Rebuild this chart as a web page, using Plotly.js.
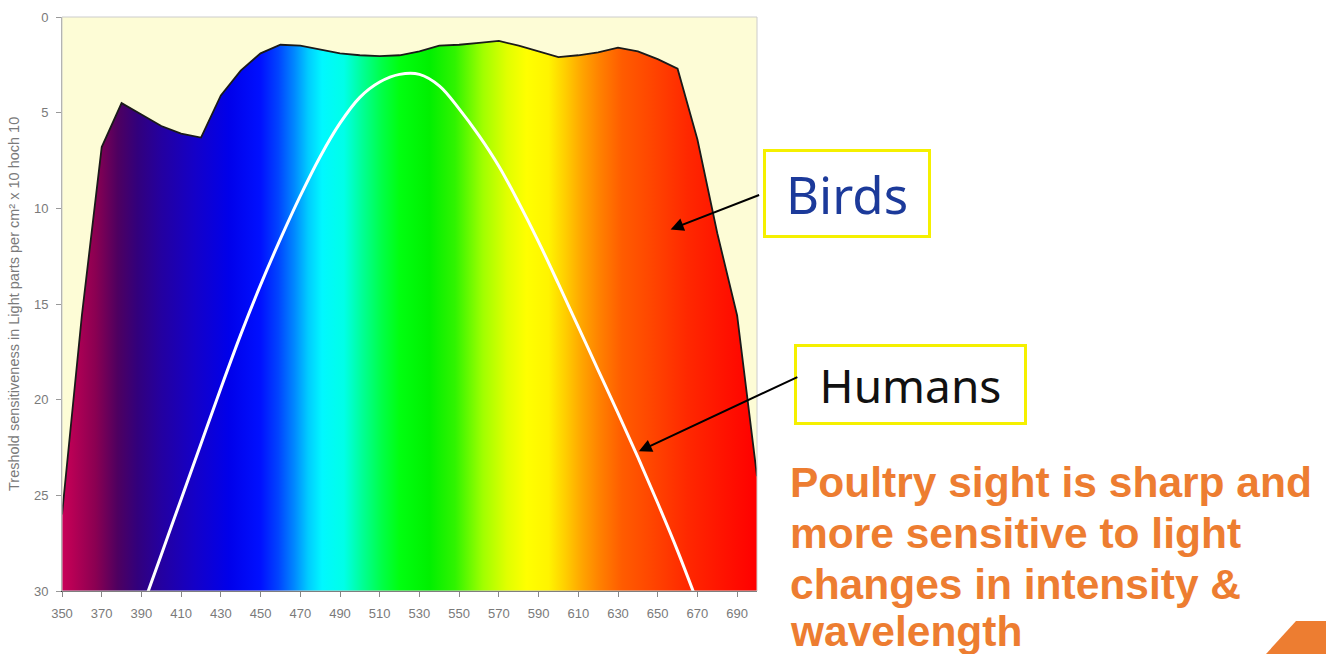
<!DOCTYPE html>
<html>
<head>
<meta charset="utf-8">
<script src="https://cdn.plot.ly/plotly-3.0.1.min.js"></script>
<style>
  html, body { margin: 0; padding: 0; background: #ffffff; }
  #chart { width: 1326px; height: 654px; }
</style>
</head>
<body>
<div id="chart"></div>
<script>
// ---- data ----
const wavelengths = [350, 360, 370, 380, 390, 400, 410, 420, 430, 440, 450, 460, 470, 480, 490, 500, 510, 520, 530, 540, 550, 560, 570, 580, 590, 600, 610, 620, 630, 640, 650, 660, 670, 680, 690, 700];
const birdsThreshold = [26.0, 15.6, 6.8, 4.5, 5.1, 5.7, 6.1, 6.3, 4.1, 2.8, 1.9, 1.45, 1.5, 1.7, 1.9, 2.0, 2.05, 2.0, 1.8, 1.5, 1.45, 1.35, 1.25, 1.5, 1.8, 2.1, 2.0, 1.85, 1.6, 1.8, 2.2, 2.7, 6.4, 11.3, 15.6, 24.0];

const humanWavelengths = [390, 400, 410, 420, 430, 440, 450, 460, 470, 480, 490, 500, 510, 520, 530, 540, 550, 560, 570, 580, 590, 600, 610, 620, 630, 640, 650, 660, 670];
const humansThreshold = [31.0, 28.1, 25.2, 22.3, 19.4, 16.6, 14.0, 11.6, 9.35, 7.3, 5.55, 4.2, 3.4, 3.0, 3.0, 3.6, 4.8, 6.2, 7.8, 9.7, 11.75, 13.95, 16.2, 18.45, 20.7, 23.0, 25.4, 27.9, 30.6];

const xTicks = [350, 370, 390, 410, 430, 450, 470, 490, 510, 530, 550, 570, 590, 610, 630, 650, 670, 690];
const yTicks = [0, 5, 10, 15, 20, 25, 30];

// spectrum colour stops along the wavelength axis
const spectrumNm = [350, 355, 367, 378, 388, 400, 417, 434, 450, 459, 467, 474, 481, 492, 501, 511, 520, 535, 548, 562, 574, 584, 595, 603, 612, 621, 632, 648, 665, 682, 700];
const spectrumColors = ['#c8005a', '#b80055', '#8a0052', '#4e0060', '#32007c', '#2400a0', '#1400c8', '#0000ea', '#0010ff', '#0044ff', '#0088ff', '#00ccff', '#00f8ff', '#00ffe8', '#00ff98', '#00ff48', '#00ff10', '#00f000', '#30f400', '#a0ff00', '#e0ff00', '#ffff00', '#fff400', '#ffd000', '#ffa400', '#ff8000', '#ff5c00', '#ff4400', '#ff2800', '#ff1400', '#ff0000'];

const lineLabels = ['Poultry sight is sharp and', 'more sensitive to light', 'changes in intensity &', 'wavelength'];
const yTitle = 'Treshold sensitiveness in Light parts per cm² x 10 hoch 10';

// ---- build ----
const X_MIN = 350, X_MAX = 700, Y_MAX = 30;
const colorscale = spectrumNm.map((nm, i) => [(nm - X_MIN) / (X_MAX - X_MIN), spectrumColors[i]]);

const floorTrace = {
  x: wavelengths, y: wavelengths.map(() => Y_MAX),
  mode: 'lines', line: {width: 0, color: 'rgba(0,0,0,0)'},
  hoverinfo: 'skip', showlegend: false
};
const birdsTrace = {
  x: wavelengths, y: birdsThreshold, name: 'Birds',
  mode: 'lines', line: {color: '#1a1a1a', width: 1.8},
  fill: 'tonexty',
  fillgradient: {type: 'horizontal', start: X_MIN, stop: X_MAX, colorscale: colorscale},
  showlegend: false
};
const humansTrace = {
  x: humanWavelengths, y: humansThreshold, name: 'Humans',
  mode: 'lines', line: {color: '#ffffff', width: 3, shape: 'spline', smoothing: 1},
  showlegend: false
};

const L = 62, R = 757, T = 17, B = 591;
const px2paperX = p => (p - L) / (R - L);
const px2paperY = p => (B - p) / (B - T);

const annotations = [
  {xref: 'paper', yref: 'paper', x: px2paperX(763), y: px2paperY(149), xanchor: 'left', yanchor: 'top',
   width: 162, height: 83, text: 'Birds', showarrow: false, align: 'center', valign: 'middle',
   font: {family: 'Noto Sans, Open Sans, sans-serif', size: 51, color: '#1c3a9a'},
   bgcolor: '#ffffff', bordercolor: '#f5f000', borderwidth: 3, borderpad: 0},
  {xref: 'paper', yref: 'paper', x: px2paperX(794), y: px2paperY(344), xanchor: 'left', yanchor: 'top',
   width: 227, height: 75, text: 'Humans', showarrow: false, align: 'center', valign: 'middle',
   font: {family: 'Noto Sans, Open Sans, sans-serif', size: 46, color: '#111111'},
   bgcolor: '#ffffff', bordercolor: '#f5f000', borderwidth: 3, borderpad: 0},
  {xref: 'x', yref: 'y', x: 656.5, y: 11.1, text: '', showarrow: true, axref: 'pixel', ayref: 'pixel',
   ax: 90, ay: -35, arrowcolor: '#000000', arrowwidth: 2, arrowhead: 2, arrowsize: 1.3},
  {xref: 'x', yref: 'y', x: 640.5, y: 22.7, text: '', showarrow: true, axref: 'pixel', ayref: 'pixel',
   ax: 160, ay: -75, arrowcolor: '#000000', arrowwidth: 2, arrowhead: 2, arrowsize: 1.3},
  {xref: 'paper', yref: 'paper', x: px2paperX(14), y: 0.5, xanchor: 'center', yanchor: 'middle',
   textangle: -90, text: yTitle, showarrow: false,
   font: {family: 'Liberation Sans, Arial, sans-serif', size: 14.5, color: '#7a7a7a'}}
];
const lineCenters = [482, 533, 584, 631];
lineLabels.forEach((t, i) => {
  annotations.push({xref: 'paper', yref: 'paper', x: px2paperX(789), y: px2paperY(lineCenters[i]),
    xanchor: 'left', yanchor: 'middle', text: '<b>' + t + '</b>', showarrow: false, align: 'left', borderpad: 0,
    font: {family: 'Liberation Sans, Arial, sans-serif', size: 42.5, color: '#ed7d31'}});
});

const layout = {
  width: 1326, height: 654,
  margin: {l: L, r: 1326 - R, t: T, b: 654 - B, pad: 0},
  paper_bgcolor: '#ffffff', plot_bgcolor: '#fdfcd6',
  font: {family: 'Liberation Sans, Arial, sans-serif', color: '#777777'},
  xaxis: {range: [X_MIN, X_MAX], tickvals: xTicks, ticktext: xTicks.map(String),
    ticks: 'outside', ticklen: 5, tickcolor: '#888888', showline: true, linecolor: '#333333', linewidth: 1,
    ticklabelstandoff: 5,
    showgrid: false, zeroline: false, tickfont: {size: 13, color: '#7a7a7a'}, fixedrange: true},
  yaxis: {range: [Y_MAX, 0], tickvals: yTicks, ticks: 'outside', ticklen: 5, tickcolor: '#999999',
    showline: true, linecolor: '#999999', linewidth: 1, showgrid: false, zeroline: false,
    ticklabelstandoff: 5,
    tickfont: {size: 13, color: '#7a7a7a'}, fixedrange: true},
  shapes: [
    {type: 'rect', xref: 'paper', yref: 'paper', x0: 0, x1: 1, y0: 0, y1: 1, line: {color: '#cccccc', width: 1}, layer: 'above'},
    {type: 'path', xref: 'paper', yref: 'paper', fillcolor: '#ed7d31', line: {width: 0},
     path: 'M ' + px2paperX(1266) + ',' + px2paperY(654) + ' L ' + px2paperX(1296) + ',' + px2paperY(621) +
           ' L ' + px2paperX(1326) + ',' + px2paperY(621) + ' L ' + px2paperX(1326) + ',' + px2paperY(654) + ' Z'}
  ],
  annotations: annotations,
  showlegend: false
};

Plotly.newPlot('chart', [floorTrace, birdsTrace, humansTrace], layout, {displayModeBar: false, staticPlot: true});
</script>
</body>
</html>
